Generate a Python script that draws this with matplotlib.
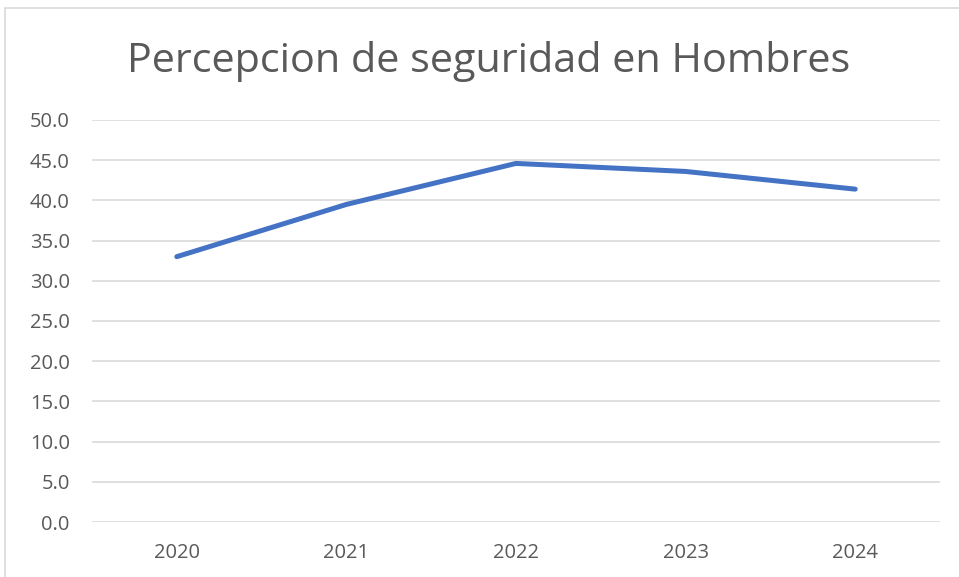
import matplotlib.pyplot as plt
from matplotlib.patches import Rectangle

years = ['2020', '2021', '2022', '2023', '2024']
valores = [33.0, 39.5, 44.6, 43.6, 41.4]
yticks = [0, 5, 10, 15, 20, 25, 30, 35, 40, 45, 50]

W, H = 959, 577
fig = plt.figure(figsize=(W / 100, H / 100), dpi=100)
plt.rcParams['font.family'] = ['Open Sans', 'DejaVu Sans']

# chart border (cut off at right/bottom like the screenshot)
fig.patches.append(Rectangle((5 / W, -0.1), 1.2, 1 - 8 / H + 0.1, transform=fig.transFigure,
                             fill=False, edgecolor='#d9d9d9', linewidth=1.2))

ax = fig.add_axes([92 / W, (H - 522) / H, (940 - 92) / W, (522 - 120) / H])
x = list(range(len(years)))
ax.plot(x, valores, color='#4472C4', linewidth=3.6, solid_capstyle='round', solid_joinstyle='round')

ax.set_xlim(-0.5, len(years) - 0.5)
ax.set_ylim(0, 50)
ax.set_yticks(yticks)
ax.set_yticklabels([f'{v:.1f}' for v in yticks])
ax.set_xticks(x)
ax.set_xticklabels(years)
ax.grid(axis='y', color='#d9d9d9', linewidth=1.2)
ax.set_axisbelow(True)
for s in ax.spines.values():
    s.set_visible(False)
ax.tick_params(length=0, labelsize=14.5, colors='#595959')
ax.tick_params(axis='y', pad=16)
ax.tick_params(axis='x', pad=15)

fig.text(489 / W, 1 - 62 / H, 'Percepcion de seguridad en Hombres', ha='center', va='center',
         fontsize=29.8, color='#595959')

fig.savefig('out.png', dpi=100)
